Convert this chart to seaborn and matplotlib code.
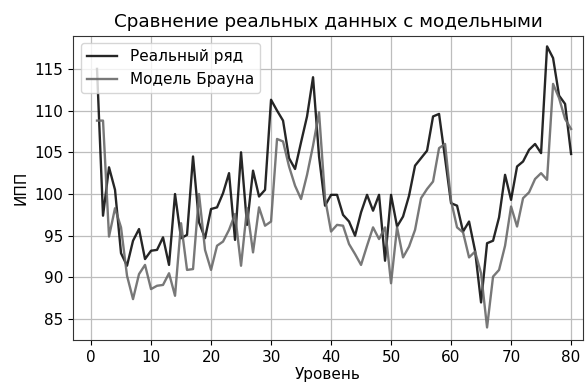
import numpy as np
import pandas as pd
import matplotlib
matplotlib.use("Agg")
import matplotlib.pyplot as plt
import seaborn as sns

# Уровни ряда
levels = list(range(1, 81))

# Реальные значения ИПП
real_values = [
    115.0, 97.4, 103.2, 100.5, 92.9, 91.4, 94.4, 95.8, 92.2, 93.2,
    93.3, 94.8, 91.5, 100.0, 94.7, 95.1, 104.5, 96.6, 94.7, 98.2,
    98.4, 100.1, 102.5, 94.5, 105.0, 96.3, 102.8, 99.7, 100.5, 111.3,
    110.0, 108.8, 104.3, 103.0, 106.2, 109.3, 114.0, 104.5, 98.6, 99.9,
    99.9, 97.5, 96.7, 95.0, 97.8, 99.9, 98.0, 99.9, 92.0, 99.9,
    96.1, 97.3, 99.8, 103.4, 104.3, 105.2, 109.3, 109.6, 104.3, 98.9,
    98.6, 95.5, 96.7, 93.2, 87.0, 94.1, 94.4, 97.2, 102.3, 99.3,
    103.3, 103.9, 105.3, 106.0, 104.9, 117.7, 116.3, 111.8, 110.8, 104.8,
]

# Значения модели Брауна
model_values = [
    108.8, 108.8, 94.9, 98.3, 96.0, 90.2, 87.4, 90.4, 91.5, 88.6,
    89.0, 89.1, 90.5, 87.8, 96.5, 90.9, 91.0, 100.0, 93.3, 90.9,
    93.8, 94.3, 95.7, 97.6, 91.4, 98.3, 93.0, 98.4, 96.2, 96.7,
    106.6, 106.3, 103.3, 101.0, 99.4, 102.3, 105.8, 109.8, 99.5, 95.5,
    96.3, 96.2, 94.0, 92.8, 91.5, 93.8, 96.0, 94.6, 96.0, 89.3,
    96.0, 92.4, 93.7, 95.7, 99.5, 100.6, 101.5, 105.5, 106.0, 99.2,
    96.0, 95.4, 92.4, 93.1, 90.5, 84.0, 90.1, 90.9, 93.8, 98.5,
    96.1, 99.5, 100.2, 101.8, 102.5, 101.7, 113.2, 111.5, 109.0, 107.8,
]

df = pd.DataFrame({"level": levels, "real": real_values, "model": model_values})

fig = plt.figure(figsize=(5.86, 3.82), dpi=100)
ax = fig.add_axes([0.1246, 0.110, 0.8704, 0.797])

sns.lineplot(data=df, x="level", y="real", ax=ax, color="black", alpha=0.85,
             linewidth=1.7, label="Реальный ряд")
sns.lineplot(data=df, x="level", y="model", ax=ax, color="dimgray", alpha=0.9,
             linewidth=1.7, label="Модель Брауна")

ax.set_xticks(range(0, 81, 10))
ax.set_yticks(range(85, 116, 5))
ax.set_xlim(-3.0, 82.0)
ax.set_ylim(82.5, 119.0)
ax.grid(True, color="#bdbdbd", linewidth=0.9)
ax.set_axisbelow(True)
for s in ax.spines.values():
    s.set_color("#333333")

ax.set_title("Сравнение реальных данных с модельными", fontsize=13.2)
ax.set_xlabel("Уровень", fontsize=11, labelpad=2)
ax.set_ylabel("ИПП", fontsize=11)
ax.tick_params(labelsize=11)
ax.legend(loc="upper left", fontsize=11)

fig.savefig("out.png", dpi=100)
